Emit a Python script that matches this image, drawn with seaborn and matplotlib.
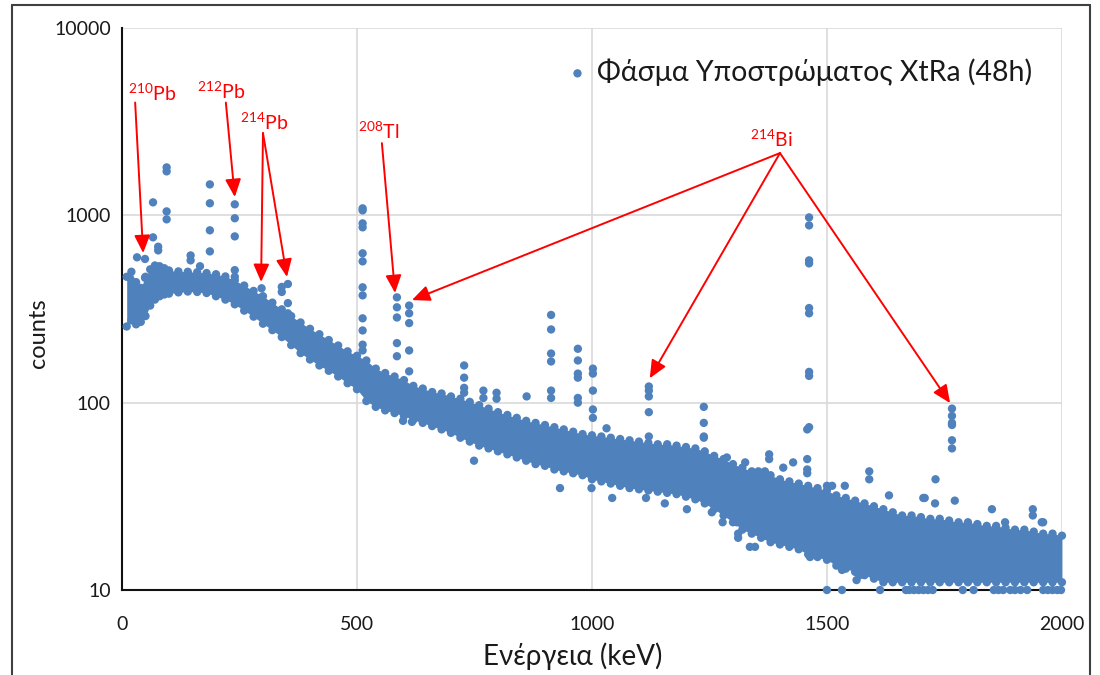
import numpy as np
import pandas as pd
import matplotlib
matplotlib.use("Agg")
import matplotlib.pyplot as plt
import seaborn as sns
from matplotlib.lines import Line2D
from matplotlib.ticker import NullLocator

# ---------------- data ----------------
# continuum band of the spectrum: energy (keV), lower and upper edge of the dot cloud (counts)
band_energy = [10, 20, 30, 40, 50, 60, 70, 80, 90, 100,
               120, 140, 160, 180, 200, 220, 240, 260, 280, 300,
               320, 340, 360, 380, 400, 420, 440, 460, 480, 500,
               520, 540, 560, 580, 600, 620, 640, 660, 680, 700,
               720, 740, 760, 780, 800, 820, 840, 860, 880, 900,
               920, 940, 960, 980, 1000, 1020, 1040, 1060, 1080, 1100,
               1120, 1140, 1160, 1180, 1200, 1220, 1240, 1260, 1280, 1300,
               1320, 1340, 1360, 1380, 1400, 1420, 1440, 1460, 1480, 1500,
               1520, 1540, 1560, 1580, 1600, 1620, 1640, 1660, 1680, 1700,
               1720, 1740, 1760, 1780, 1800, 1820, 1840, 1860, 1880, 1900,
               1920, 1940, 1960, 1980, 2000]
band_low = [255, 275, 262, 270, 290, 330, 355, 370, 378, 382,
            388, 392, 390, 385, 370, 355, 335, 310, 288, 264,
            244, 224, 203, 184, 170, 158, 148, 138, 127, 118,
            102, 95, 91, 88, 85, 81, 78, 75, 72, 69,
            65, 62, 59, 57, 55, 53, 51, 49, 47, 46,
            44, 43, 42, 41, 39, 38, 37, 36, 35, 34.5,
            34, 33.5, 33, 32.5, 31.5, 30.5, 29, 27, 25, 23,
            21, 20, 19, 18, 17.5, 17, 16.5, 15.5, 15, 14.5,
            13.5, 13, 12.5, 12, 11.5, 11, 11, 11, 11, 11,
            11, 11, 11, 11, 11, 11, 11, 11, 11, 11,
            11, 11, 11, 11, 11]
band_high = [470, 500, 440, 410, 470, 515, 540, 535, 522, 508,
             502, 500, 497, 492, 485, 472, 450, 422, 395, 370,
             342, 315, 290, 268, 248, 232, 216, 202, 188, 178,
             168, 152, 144, 138, 132, 123, 119, 114, 112, 108,
             105, 101, 97, 93, 89, 86, 83, 80, 78, 76,
             74, 72, 70, 68, 67, 66, 65, 64, 63, 62,
             61, 60, 60, 59, 58, 57, 55, 52, 50, 47,
             45, 43, 42, 41, 39, 38, 37, 36, 35, 34,
             32, 31, 30, 29, 28, 27, 26, 25, 25, 24.5,
             24, 24, 23.5, 23, 23, 22.5, 22, 22, 21.5, 21,
             21, 20.5, 20, 20, 19.5]

# isolated dots above the continuum (photopeaks and stray channels)
peak_energy = [66, 66, 77, 77, 95, 95, 95, 95, 32, 49, 49,
               146, 146, 166, 187, 187, 187, 187,
               240, 240, 240, 240, 240, 297, 297,
               353, 340, 340, 353, 353,
               512, 512, 512, 512, 512, 512, 512, 512, 512, 512, 512, 512,
               585, 585, 585, 585, 585, 611, 611, 611, 611, 611,
               728, 728, 728, 728, 769, 769, 797, 797, 861,
               913, 913, 913, 913, 913, 913, 970, 970, 970, 970, 970, 970,
               1002, 1002, 1002, 1002, 1002, 1031,
               1121, 1121, 1121, 1121, 1121, 1238, 1238, 1238, 1238,
               1287, 1326, 1377, 1377, 1428,
               1462, 1462, 1462, 1462, 1462, 1462, 1462, 1462, 1462,
               1458, 1458, 1458, 1458,
               1590, 1590, 1632, 1708, 1731,
               1766, 1766, 1766, 1766, 1766, 1766, 1938, 1938, 1960]
peak_counts = [1173, 763, 680, 650, 1803, 1717, 1050, 952, 597, 585, 464,
               611, 575, 535, 1463, 1160, 832, 642,
               1145, 965, 772, 510, 470, 408, 365,
               430, 415, 390, 340, 300,
               1090, 1063, 906, 863, 627, 568, 413, 374, 282, 243, 204, 190,
               365, 323, 285, 208, 177, 330, 300, 266, 190, 147,
               158, 136, 120, 113, 116, 106, 113, 105, 108,
               294, 246, 183, 166, 116, 106, 194, 168, 143, 136, 106, 100,
               152, 143, 116, 92, 83, 73,
               122, 116, 108, 89, 66, 95, 78, 66, 65,
               51, 48, 53, 50, 48,
               975, 884, 575, 554, 320, 300, 146, 139, 74,
               72, 50, 44, 42,
               43, 39, 32, 31, 39,
               93, 85, 78, 76, 63, 57, 27, 25, 23]

# stray dots just outside the edges of the continuum
stray_energy = [1354, 1368, 1407, 1500, 1511, 1538, 1705, 1730, 1772, 1851, 1879, 1957,
                1311, 1311, 1336, 1347, 1464, 1489, 1532, 1563, 1570,
                598, 617, 749, 932, 999, 1043, 1115, 1155, 1202, 1255, 1278, 1308]
stray_counts = [43, 43, 45, 36, 36, 36, 31, 29, 30, 27, 23, 23,
                20, 19, 17, 17, 15, 15.5, 12.8, 11.3, 12,
                80, 79, 49, 35, 35, 31, 31, 29, 27, 26, 23, 23]

# channels sitting on the 10-count floor
floor_energy = [1500, 1532, 1613, 1668, 1675, 1685, 1695, 1705, 1715, 1725,
                1789, 1812, 1855, 1865, 1875, 1890, 1900, 1912, 1926,
                1960, 1970, 1980, 1990, 1998]
floor_counts = [10] * len(floor_energy)

series_label = "Φάσμα Υποστρώματος XtRa (48h)"
x_label = "Ενέργεια (keV)"
y_label = "counts"
x_ticks = [0, 500, 1000, 1500, 2000]
y_ticks = [10, 100, 1000, 10000]
y_tick_labels = ["10", "100", "1000", "10000"]

# annotations: label, label position, arrow tails/tips (energy, counts)
isotope_labels = [r"$^{\mathregular{210}}$Pb", r"$^{\mathregular{212}}$Pb",
                  r"$^{\mathregular{214}}$Pb", r"$^{\mathregular{208}}$Tl",
                  r"$^{\mathregular{214}}$Bi"]
label_pos = [(12, 3950), (160, 4050), (251, 2760), (502, 2480), (1336, 2250)]
arrow_tail = [(28, 4000), (221, 4000), (300, 2750), (300, 2750), (553, 2430),
              (1400, 2150), (1400, 2150), (1400, 2150)]
arrow_tip = [(45, 629), (240, 1253), (296, 441), (351, 469), (581, 385),
             (617, 353), (1123, 135), (1762, 99.5)]

# ---------------- drawing ----------------
BLUE = "#4F81BD"
RED = "#FF0000"
INK = "#1a1a1a"

sns.set_theme(style="white")
plt.rcParams["font.family"] = ["Lato", "Noto Sans", "DejaVu Sans"]
plt.rcParams["axes.unicode_minus"] = False

fig = plt.figure(figsize=(11, 6.75), dpi=100)
ax = fig.add_axes([0.1109, 0.1259, 0.8545, 0.8326])

df = pd.DataFrame({
    "energy": band_energy + band_energy + peak_energy + stray_energy + floor_energy,
    "counts": band_low + band_high + peak_counts + stray_counts + floor_counts,
})

ax.fill_between(band_energy, band_low, band_high, color=BLUE, linewidth=0, zorder=2)
sns.scatterplot(data=df, x="energy", y="counts", ax=ax, color=BLUE, s=36,
                linewidth=0, edgecolor="none", label=series_label,
                zorder=3, clip_on=False)

ax.set_yscale("log")
ax.set_xlim(0, 2000)
ax.set_ylim(10, 10000)
ax.set_xticks(x_ticks)
ax.set_xticklabels([str(t) for t in x_ticks])
ax.set_yticks(y_ticks)
ax.set_yticklabels(y_tick_labels)
ax.yaxis.set_minor_locator(NullLocator())
ax.tick_params(axis="x", length=0, pad=19, labelsize=14, labelcolor=INK)
ax.tick_params(axis="y", length=0, pad=8, labelsize=14, labelcolor=INK)

ax.grid(True, color="#d9d9d9", linewidth=1.2)
ax.set_axisbelow(True)
for side in ["top", "right"]:
    ax.spines[side].set_visible(False)
for side in ["left", "bottom"]:
    ax.spines[side].set_color("#111111")
    ax.spines[side].set_linewidth(1.5)
    ax.spines[side].set_zorder(2.5)

ax.set_xlabel(x_label, fontsize=20, color=INK)
ax.xaxis.set_label_coords(0.479, -0.094)
ax.set_ylabel(y_label, fontsize=17, color=INK)
ax.yaxis.set_label_coords(-0.078, 0.457)

ax.legend(loc="center left", bbox_to_anchor=(0.4755, 0.9217), frameon=False,
          fontsize=20.5, handlelength=0.6, handletextpad=0.4, borderpad=0,
          borderaxespad=0, labelcolor=INK)

for txt, (ex, cy) in zip(isotope_labels, label_pos):
    ax.text(ex, cy, txt, color=RED, fontsize=14, ha="left", va="bottom", zorder=5)
for tail, tip in zip(arrow_tail, arrow_tip):
    ax.annotate("", xy=tip, xytext=tail,
                arrowprops=dict(arrowstyle="-|>,head_length=0.9,head_width=0.4",
                                color=RED, lw=1.4, shrinkA=0, shrinkB=0,
                                mutation_scale=12), zorder=5)

# outer frame of the figure
frame_kw = dict(color="#404040", linewidth=1.5, transform=fig.transFigure)
fig.add_artist(Line2D([0.0109, 0.0109], [0.0, 0.9926], **frame_kw))
fig.add_artist(Line2D([0.0109, 0.9909], [0.9926, 0.9926], **frame_kw))
fig.add_artist(Line2D([0.9909, 0.9909], [0.9926, 0.0], **frame_kw))

fig.savefig("out.png", dpi=100)
